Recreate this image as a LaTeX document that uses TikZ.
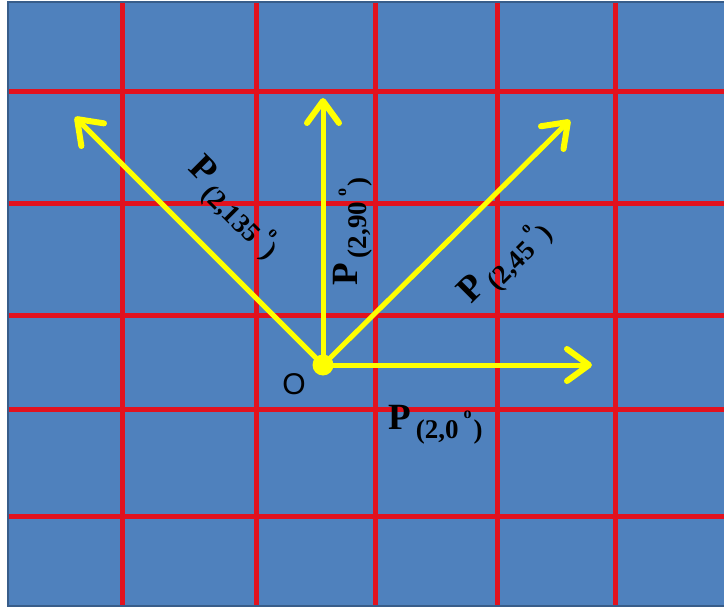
\documentclass[tikz,border=0pt]{standalone}
\usepackage{fontspec}
\setmainfont{Liberation Serif}
\newfontfamily\arialf{Liberation Sans}
\usetikzlibrary{arrows.meta}
\definecolor{bgblue}{RGB}{79,129,189}
\definecolor{edgeblue}{RGB}{56,93,138}
\definecolor{gridred}{RGB}{226,18,30}
\definecolor{vecyellow}{RGB}{255,255,0}
\newcommand{\plab}[1]{{\fontsize{37}{37}\selectfont\bfseries P}\kern5pt\raisebox{-9pt}{\fontsize{27}{27}\selectfont\bfseries (2,#1\kern5pt\raisebox{20pt}{\fontsize{16}{16}\selectfont o}\kern2pt)}}
\begin{document}
\begin{tikzpicture}[x=1pt,y=-1pt,
  gridline/.style={gridred,line width=5pt},
  vec/.style={vecyellow,line width=5pt,line cap=round,-{Straight Barb[length=22pt,width=32pt,round,line width=6pt]}},
  plabel/.style={anchor=base west,inner sep=0pt,text=black}]
\useasboundingbox (0,0) rectangle (724,610);
\fill[white] (0,0) rectangle (724,610);
\draw[fill=bgblue,draw=edgeblue,line width=2pt] (8,2) rectangle (728,606);
\foreach \x in {122,256,375,497,615} \draw[gridline] (\x,3) -- (\x,605);
\foreach \y in {92,203,315,409,516} \draw[gridline] (9,\y) -- (726,\y);
\node[circle,fill=vecyellow,minimum size=21pt,inner sep=0pt] (O) at (323,365) {};
\coordinate (t135) at (75,117);
\coordinate (t90) at (323,98);
\coordinate (t45) at (570,120);
\coordinate (t0) at (592,365);
\draw[vec] (O.center) -- (t135);
\draw[vec] (O.center) -- (t90);
\draw[vec] (O.center) -- (t45);
\draw[vec] (O.center) -- (t0);
\node[text=black,inner sep=0pt,font=\arialf\fontsize{30}{30}\selectfont] (lO) at (294,384) {O};
\node[plabel] (l0) at (388,429) {\plab{0}};
\node[plabel,rotate=90] (l90) at (357,286) {\plab{90}};
\node[plabel,rotate=45] (l45) at (471,305) {\plab{45}};
\node[plabel,rotate=-45] (l135) at (187,169) {\plab{135}};
\end{tikzpicture}
\end{document}
